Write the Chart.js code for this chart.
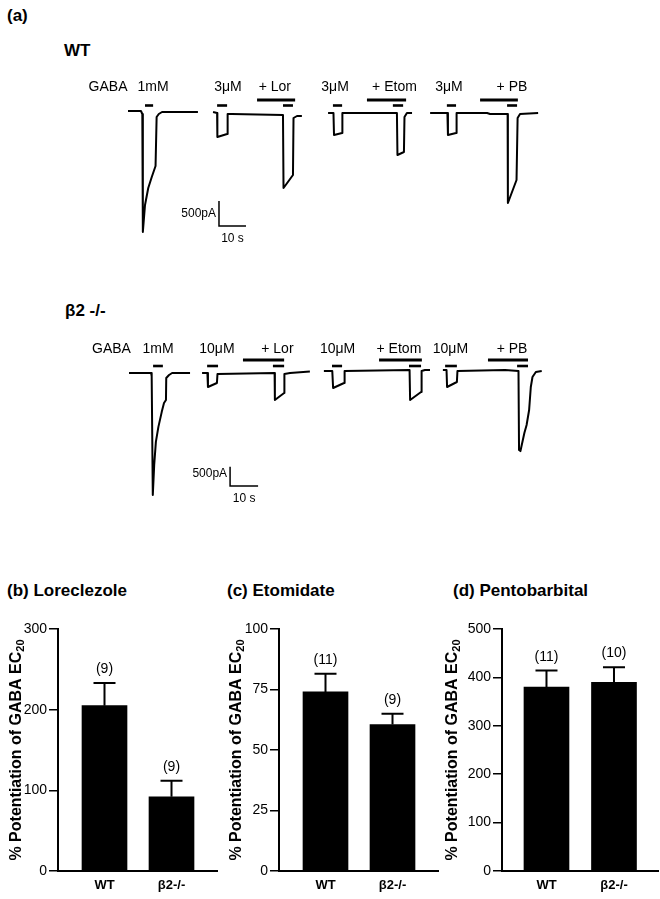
<!DOCTYPE html>
<html>
<head>
<meta charset="utf-8">
<script src="https://cdn.jsdelivr.net/npm/chart.js@4.4.1/dist/chart.umd.min.js"></script>
<style>
  body { margin: 0; background: #fff; }
  #fig { position: relative; width: 660px; height: 899px; font-family: "Liberation Sans", Arial, sans-serif; color: #000; }
  #fig canvas { position: absolute; }
  .hd { position: absolute; font-weight: bold; font-size: 17px; line-height: 17px; white-space: nowrap; }
</style>
</head>
<body>
<div id="fig">
  <div class="hd" style="left:7px;top:7px">(a)</div>
  <div class="hd" style="left:64px;top:42px">WT</div>
  <canvas id="wt-trace" width="660" height="200" style="left:0;top:60px"></canvas>
  <div class="hd" style="left:65px;top:302px">β2 -/-</div>
  <canvas id="ko-trace" width="660" height="230" style="left:0;top:285px"></canvas>

  <div class="hd" style="left:7px;top:582px">(b) Loreclezole</div>
  <div class="hd" style="left:227px;top:582px">(c) Etomidate</div>
  <div class="hd" style="left:453px;top:582px">(d) Pentobarbital</div>
  <canvas id="lor-chart" width="221" height="299" style="left:0;top:600px"></canvas>
  <canvas id="eto-chart" width="221" height="299" style="left:221px;top:600px"></canvas>
  <canvas id="pb-chart" width="216" height="299" style="left:444px;top:600px"></canvas>
</div>
<script>
// ---- (a) traces: [time (s), current (pA)] ----
const wt1mM  = [[0,0],[4.8,0],[5.3,-60],[5.5,-2420],[6.3,-1880],[7.5,-1540],[8.8,-1320],[10.2,-1100],[10.6,-120],[11.4,-60],[12.6,-20],[25.9,-20]];
const wtLor  = [[31.5,-20],[33.0,-40],[33.1,-520],[36.7,-460],[36.9,-60],[38.5,-60],[57.4,-80],[57.6,-1540],[61.1,-1280],[61.3,-140],[62.6,-100],[64.4,-100]];
const wtEtom = [[74.1,-40],[76.1,-40],[76.3,-480],[79.3,-440],[79.4,-40],[99.6,-40],[99.8,-880],[102.2,-820],[102.4,-120],[103.3,-40],[105.2,-40]];
const wtPB   = [[111.9,-40],[118.3,-40],[118.5,-480],[121.5,-440],[121.7,-40],[133.0,-40],[134.1,-60],[140.6,-60],[140.7,-1840],[143.9,-1380],[144.3,-140],[145.2,-60],[151.9,-40]];
const wtGabaBars = [[6.3,9.3],[33.0,36.7],[57.4,61.1],[75.9,79.3],[98.1,101.9],[118.1,121.5],[140.4,144.1]];
const wtDrugBars = [[47.8,61.9],[88.5,103.0],[130.4,144.4]];
const wtLabels   = ['GABA', '1mM', '3μM', '+ Lor', '3μM', '+ Etom', '3μM', '+ PB'];
const wtLabelAt  = [-7.4, 9.3, 37.0, 54.4, 76.7, 98.7, 118.9, 142.2];

const ko1mM  = [[0,0],[7.9,0],[8.1,-80],[8.5,-3170],[9.0,-2390],[9.6,-1790],[10.5,-1400],[11.7,-1010],[12.5,-780],[13.2,-700],[13.3,-130],[14.3,-52],[15.4,0],[21.8,0]];
const koLor  = [[26.1,0],[28.0,0],[28.2,-364],[31.4,-260],[31.6,-26],[52.0,0],[52.1,-702],[55.4,-520],[55.5,-26],[57.5,0],[64.6,40]];
const koEtom = [[69.6,52],[72.6,52],[72.9,-390],[76.8,-260],[77.0,52],[100.2,78],[100.4,-702],[104.3,-494],[104.5,52],[105.7,78],[107.5,78]];
const koPB   = [[112.1,78],[113.4,78],[113.6,-364],[117.1,-234],[117.3,52],[134.3,78],[139.1,52],[139.3,-2000],[139.8,-2030],[141.2,-1560],[142.0,-1352],[142.9,-962],[143.5,-364],[144.1,-104],[145.3,26],[147.4,52]];
const koGabaBars = [[8.6,12.1],[27.9,31.8],[51.4,55.4],[72.5,76.1],[100.0,104.3],[112.9,117.1],[138.6,142.5]];
const koDrugBars = [[40.7,55.4],[89.3,104.6],[128.2,142.5]];
const koLabels   = ['GABA', '1mM', '10μM', '+ Lor', '10μM', '+ Etom', '10μM', '+ PB'];
const koLabelAt  = [-6.25, 10.4, 31.4, 53.0, 74.5, 96.4, 114.8, 136.8];

// ---- (b)-(d) % potentiation of GABA EC20 ----
const groups  = ['WT', 'β2-/-'];
const lorMean = [205, 92],   lorSem = [28, 20],  lorN = [9, 9];
const etoMean = [74, 60.5],  etoSem = [7.5, 4.5], etoN = [11, 9];
const pbMean  = [380, 390],  pbSem  = [34, 31],  pbN  = [11, 10];

const FONT = '"Liberation Sans", Arial, sans-serif';
Chart.defaults.font.family = FONT;
Chart.defaults.color = '#000';

const traceNotes = (n) => ({
    id: 'traceNotes',
    afterDatasetsDraw(chart) {
        const { ctx, scales: { x, y } } = chart;
        const y0 = y.getPixelForValue(0);
        const seg = (a, b, yy) => { ctx.beginPath(); ctx.moveTo(x.getPixelForValue(a), yy); ctx.lineTo(x.getPixelForValue(b), yy); ctx.stroke(); };
        ctx.save();
        ctx.fillStyle = '#000'; ctx.strokeStyle = '#000';
        ctx.font = '14px ' + FONT;
        ctx.textAlign = 'center'; ctx.textBaseline = 'alphabetic';
        n.labels.forEach((txt, i) => ctx.fillText(txt, x.getPixelForValue(n.labelAt[i]), y0 - 20));
        ctx.lineWidth = 2.6;
        n.gaba.forEach(([a, b]) => seg(a, b, y0 - n.shortGap));
        ctx.lineWidth = 3;
        n.drug.forEach(([a, b]) => seg(a, b, y0 - n.longGap));
        // scale bar
        const cx = x.getPixelForValue(n.scaleAt[0]), cy = y.getPixelForValue(n.scaleAt[1]);
        const top = y.getPixelForValue(n.scaleAt[1] + 500), rx = x.getPixelForValue(n.scaleAt[0] + 10);
        ctx.lineWidth = 1.5;
        ctx.beginPath(); ctx.moveTo(cx, top); ctx.lineTo(cx, cy); ctx.lineTo(rx, cy); ctx.stroke();
        ctx.font = '12px ' + FONT;
        ctx.textAlign = 'right';
        ctx.fillText('500pA', cx - 3, cy - 9);
        ctx.textAlign = 'center';
        ctx.fillText('10 s', (cx + rx) / 2, cy + 16);
        ctx.restore();
    }
});

const traceChart = (id, sweeps, xRange, yRange, notes) => new Chart(document.getElementById(id), {
    type: 'line',
    data: {
        datasets: sweeps.map(s => ({
            data: s.map(([t, i]) => ({ x: t, y: i })),
            borderColor: '#000', borderWidth: 2, borderJoinStyle: 'round',
            pointRadius: 0, tension: 0, fill: false
        }))
    },
    options: {
        responsive: false, animation: false,
        layout: { padding: 0 },
        plugins: { legend: { display: false }, tooltip: { enabled: false } },
        scales: {
            x: { type: 'linear', display: false, min: xRange[0], max: xRange[1] },
            y: { display: false, min: yRange[0], max: yRange[1] }
        }
    },
    plugins: [traceNotes(notes)]
});

traceChart('wt-trace', [wt1mM, wtLor, wtEtom, wtPB], [-47.41, 197.04], [-2980, 1020],
    { labels: wtLabels, labelAt: wtLabelAt, gaba: wtGabaBars, drug: wtDrugBars, shortGap: 5.5, longGap: 11, scaleAt: [33.7, -2300] });
traceChart('ko-trace', [ko1mM, koLor, koEtom, koPB], [-46.07, 189.64], [-3692, 2288],
    { labels: koLabels, labelAt: koLabelAt, gaba: koGabaBars, drug: koDrugBars, shortGap: 7, longGap: 13, scaleAt: [36.1, -2938] });

const errorBars = (sem, counts) => ({
    id: 'errorBars',
    afterDatasetsDraw(chart) {
        const { ctx, scales: { y } } = chart;
        const ds = chart.data.datasets[0];
        ctx.save();
        ctx.strokeStyle = '#000'; ctx.fillStyle = '#000'; ctx.lineWidth = 2;
        ctx.font = '14px ' + FONT; ctx.textAlign = 'center'; ctx.textBaseline = 'alphabetic';
        chart.getDatasetMeta(0).data.forEach((bar, i) => {
            const v = ds.data[i].y;
            const yb = y.getPixelForValue(v), yt = y.getPixelForValue(v + sem[i]);
            ctx.beginPath();
            ctx.moveTo(bar.x, yb); ctx.lineTo(bar.x, yt);
            ctx.moveTo(bar.x - 11, yt); ctx.lineTo(bar.x + 11, yt);
            ctx.stroke();
            ctx.fillText('(' + counts[i] + ')', bar.x, yt - 10);
        });
        ctx.restore();
    }
});

const axisTitle = (dx) => ({
    id: 'axisTitle',
    afterDraw(chart) {
        const { ctx, chartArea: a } = chart;
        const main = '% Potentiation of GABA EC', sub = '20';
        ctx.save();
        ctx.translate(a.left - dx, (a.top + a.bottom) / 2);
        ctx.rotate(-Math.PI / 2);
        ctx.fillStyle = '#000';
        ctx.textBaseline = 'middle'; ctx.textAlign = 'left';
        ctx.font = 'bold 16px ' + FONT;
        const w1 = ctx.measureText(main).width;
        ctx.font = 'bold 11px ' + FONT;
        const w2 = ctx.measureText(sub).width;
        const x0 = -(w1 + w2) / 2;
        ctx.font = 'bold 16px ' + FONT;
        ctx.fillText(main, x0, 0);
        ctx.font = 'bold 11px ' + FONT;
        ctx.fillText(sub, x0 + w1, 4);
        ctx.restore();
    }
});

const barChart = (id, mean, sem, counts, yMax, step, xRange, rightPad, titleDx) => new Chart(document.getElementById(id), {
    type: 'bar',
    data: {
        datasets: [{
            data: mean.map((v, i) => ({ x: i + 1, y: v })),
            backgroundColor: '#000', borderWidth: 0, barThickness: 45
        }]
    },
    options: {
        responsive: false, animation: false,
        layout: { padding: { left: 22, top: 29, right: rightPad, bottom: 6 } },
        plugins: { legend: { display: false }, tooltip: { enabled: false } },
        scales: {
            x: {
                type: 'linear', min: xRange[0], max: xRange[1], offset: false,
                afterBuildTicks: ax => { ax.ticks = groups.map((g, i) => ({ value: i + 1 })); },
                afterFit: ax => { ax.height = 22; },
                grid: { display: true, offset: false, drawOnChartArea: false, drawTicks: false },
                border: { color: '#000', width: 2 },
                ticks: { callback: v => groups[v - 1], font: { size: 13, weight: 'bold' }, padding: 7, autoSkip: false, maxRotation: 0 }
            },
            y: {
                min: 0, max: yMax,
                afterFit: ax => { ax.width = 36; },
                ticks: { stepSize: step, font: { size: 14 }, padding: 2 },
                grid: { drawOnChartArea: false, color: '#000', tickLength: 9, lineWidth: 1.5 },
                border: { color: '#000', width: 2 }
            }
        }
    },
    plugins: [errorBars(sem, counts), axisTitle(titleDx)]
});

barChart('lor-chart', lorMean, lorSem, lorN, 300, 100, [0.306, 2.679], 4, 41);
barChart('eto-chart', etoMean, etoSem, etoN, 100, 25, [0.306, 2.679], 4, 42);
barChart('pb-chart', pbMean, pbSem, pbN, 500, 100, [0.341, 2.652], 2, 49);
</script>
</body>
</html>
